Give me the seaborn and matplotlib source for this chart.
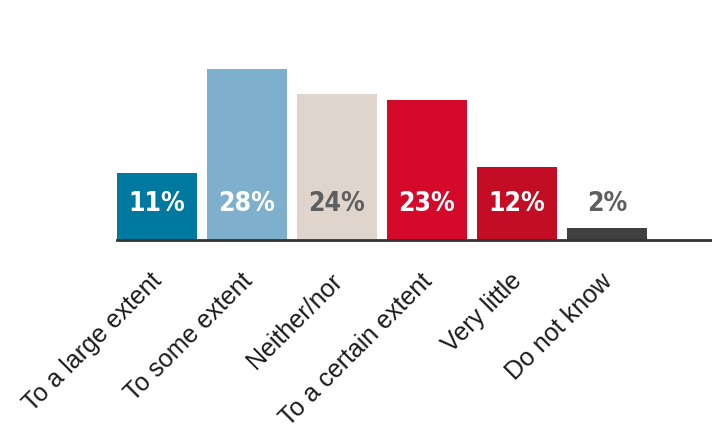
import matplotlib
matplotlib.use("Agg")
import matplotlib.pyplot as plt
import matplotlib.transforms as mtransforms
import seaborn as sns
import pandas as pd

categories = ["To a large extent", "To some extent", "Neither/nor",
              "To a certain extent", "Very little", "Do not know"]
values = [11, 28, 24, 23, 12, 2]
value_labels = ["11%", "28%", "24%", "23%", "12%", "2%"]
bar_colors = ["#0079A1", "#7EB0CE", "#DFD5CC", "#D50A2A", "#C30D24", "#404040"]
label_colors = ["white", "white", "#5E5E5E", "white", "white", "#5E5E5E"]

sns.set_theme(style="white")
plt.rcParams["font.family"] = ["Liberation Sans", "DejaVu Sans"]

df = pd.DataFrame({"category": categories, "value": values})

fig = plt.figure(figsize=(7.12, 4.31), dpi=100)
ax = fig.add_axes([117 / 712, 190 / 431, 595 / 712, 241 / 431])

sns.barplot(data=df, x="category", y="value", hue="category",
            palette=bar_colors, width=0.889, legend=False, ax=ax,
            saturation=1, edgecolor="none")

ax.set_xlim(-0.4445, 6.17)
ax.set_ylim(0, 39.5)

for i, (lab, col) in enumerate(zip(value_labels, label_colors)):
    ax.text(i, 6.0, lab, ha="center", va="center", color=col,
            fontsize=19, fontweight="bold",
            family=["DejaVu Sans"], fontstretch="condensed")

for s in ["top", "right", "left"]:
    ax.spines[s].set_visible(False)
ax.spines["bottom"].set_color("#333333")
ax.spines["bottom"].set_linewidth(2)
ax.spines["bottom"].set_zorder(5)

ax.set_yticks([])
ax.set_xlabel("")
ax.set_ylabel("")
ax.tick_params(axis="x", length=0, pad=20)
ax.set_xticks(range(len(categories)))
ax.set_xticklabels(categories, rotation=45, ha="right",
                   rotation_mode="anchor", fontsize=18, color="#1a1a1a")
shift = mtransforms.ScaledTranslation(-7 / 100, 0, fig.dpi_scale_trans)
for t in ax.get_xticklabels():
    t.set_transform(t.get_transform() + shift)

fig.savefig("out.png", dpi=100, facecolor="white")
